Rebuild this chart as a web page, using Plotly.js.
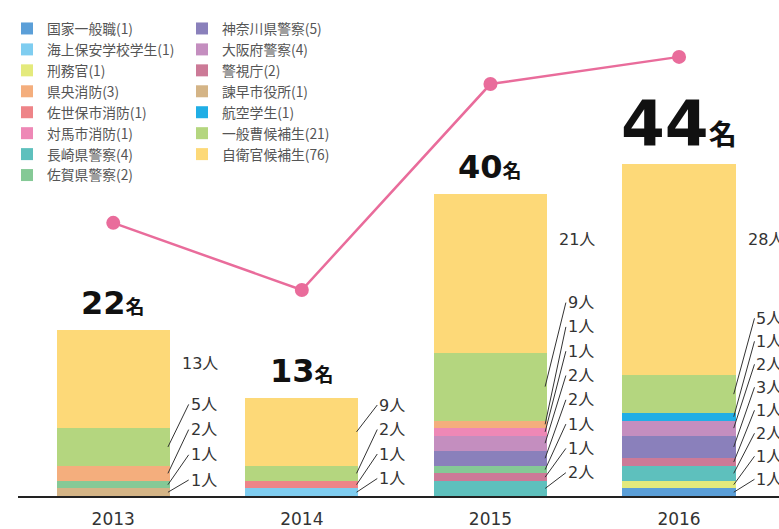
<!DOCTYPE html>
<html>
<head>
<meta charset="utf-8">
<script src="https://cdn.plot.ly/plotly-3.0.1.min.js"></script>
<style>html,body{margin:0;padding:0;background:#fff;}#chart{width:779px;height:529px;}</style>
</head>
<body>
<div id="chart"></div>
<script>
// ---- data ----
const years = ['2013', '2014', '2015', '2016'];
// stacking order (bottom to top)
const kokkaIppanshoku = [0, 0, 0, 1];     // 国家一般職
const kaijoHoan = [0, 1, 0, 0];           // 海上保安学校学生
const keimukan = [0, 0, 0, 1];            // 刑務官
const isahayaShiyakusho = [1, 0, 0, 0];   // 諫早市役所
const nagasakiKeisatsu = [0, 0, 2, 2];    // 長崎県警察
const keishicho = [0, 0, 1, 1];           // 警視庁
const sagaKeisatsu = [1, 0, 1, 0];        // 佐賀県警察
const kanagawaKeisatsu = [0, 0, 2, 3];    // 神奈川県警察
const osakaKeisatsu = [0, 0, 2, 2];       // 大阪府警察
const kokuGakusei = [0, 0, 0, 1];         // 航空学生
const saseboShobo = [0, 1, 0, 0];         // 佐世保市消防
const tsushimaShobo = [0, 0, 1, 0];       // 対馬市消防
const kenoShobo = [2, 0, 1, 0];           // 県央消防
const ippanSokohosei = [5, 2, 9, 5];      // 一般曹候補生
const jieikanKohosei = [13, 9, 21, 28];   // 自衛官候補生
const lineValues = [36.2, 27.3, 54.6, 58.2]; // 折れ線（目盛なし）

const legendNames = {
  kokka: '国家一般職(1)', kaijo: '海上保安学校学生(1)', keimu: '刑務官(1)', keno: '県央消防(3)',
  sasebo: '佐世保市消防(1)', tsushima: '対馬市消防(1)', nagasaki: '長崎県警察(4)', saga: '佐賀県警察(2)',
  kanagawa: '神奈川県警察(5)', osaka: '大阪府警察(4)', keishi: '警視庁(2)', isahaya: '諫早市役所(1)',
  koku: '航空学生(1)', ippan: '一般曹候補生(21)', jieikan: '自衛官候補生(76)'
};

// ---- style ----
const series = [
  {key: 'kokka', v: kokkaIppanshoku, c: '#5B9FD8', lg: 'legend', r: 1},
  {key: 'kaijo', v: kaijoHoan, c: '#7FCDF0', lg: 'legend', r: 2},
  {key: 'keimu', v: keimukan, c: '#E4EA7C', lg: 'legend', r: 3},
  {key: 'isahaya', v: isahayaShiyakusho, c: '#D4B486', lg: 'legend2', r: 4},
  {key: 'nagasaki', v: nagasakiKeisatsu, c: '#5EC0BD', lg: 'legend', r: 7},
  {key: 'keishi', v: keishicho, c: '#CC7A97', lg: 'legend2', r: 3},
  {key: 'saga', v: sagaKeisatsu, c: '#85C996', lg: 'legend', r: 8},
  {key: 'kanagawa', v: kanagawaKeisatsu, c: '#8A80BB', lg: 'legend2', r: 1},
  {key: 'osaka', v: osakaKeisatsu, c: '#C48EBF', lg: 'legend2', r: 2},
  {key: 'koku', v: kokuGakusei, c: '#20AEE5', lg: 'legend2', r: 5},
  {key: 'sasebo', v: saseboShobo, c: '#EE8488', lg: 'legend', r: 5},
  {key: 'tsushima', v: tsushimaShobo, c: '#EE88B6', lg: 'legend', r: 6},
  {key: 'keno', v: kenoShobo, c: '#F4AE7D', lg: 'legend', r: 4},
  {key: 'ippan', v: ippanSokohosei, c: '#B4D67F', lg: 'legend2', r: 6},
  {key: 'jieikan', v: jieikanKohosei, c: '#FDD978', lg: 'legend2', r: 7}
];

const W = 779, H = 529, ML = 18, MR = 0, MT = 10, MB = 33;
const plotH = H - MT - MB;
const yMax = plotH / 7.545;
const pxToY = py => (H - MB - py) * yMax / plotH;

const CJK = '"DejaVu Sans", "Noto Sans CJK JP", sans-serif';

const traces = series.map(s => ({
  type: 'bar', x: years, y: s.v, name: legendNames[s.key],
  marker: {color: s.c, line: {width: 0}}, width: 0.6,
  legend: s.lg, legendrank: s.r, legendgroup: s.key,
  hoverinfo: 'skip'
}));
traces.push({
  type: 'scatter', mode: 'lines+markers', x: years, y: lineValues, yaxis: 'y2',
  line: {color: '#E96C9B', width: 2.5}, marker: {color: '#E96C9B', size: 14},
  showlegend: false, hoverinfo: 'skip'
});

// label layout per year (pixel positions of the labels, bottom-up)
const labelCfg = [
  {base: 480, step: 25.2, plainTop: true, plainY: 363.5},
  {base: 478.5, step: 24.5, plainTop: false},
  {base: 472.7, step: 24.3, plainTop: true, plainY: 239.3},
  {base: 479.3, step: 23.0, plainTop: true, plainY: 239.3}
];
const annotations = [];
years.forEach((yr, i) => {
  const segs = [];
  let cum = 0;
  series.forEach(s => {
    const v = s.v[i];
    if (v > 0) { segs.push({v: v, mid: cum + v / 2}); cum += v; }
  });
  const cfg = labelCfg[i];
  const lead = cfg.plainTop ? segs.slice(0, -1) : segs;
  lead.forEach((sg, j) => {
    annotations.push({
      x: i + 0.29, y: sg.mid, xref: 'x', yref: 'y',
      ax: i + 0.4, ay: pxToY(cfg.base - j * cfg.step), axref: 'x', ayref: 'y',
      text: sg.v + '人', showarrow: true, arrowhead: 0, arrowwidth: 1, arrowcolor: '#333',
      xanchor: 'left', yanchor: 'middle', font: {family: CJK, size: 16, color: '#333'}
    });
  });
  if (cfg.plainTop) {
    const top = segs[segs.length - 1];
    annotations.push({
      x: i + 0.355, y: pxToY(cfg.plainY), xref: 'x', yref: 'y', showarrow: false,
      text: top.v + '人', xanchor: 'left', yanchor: 'middle',
      font: {family: CJK, size: 16, color: '#333'}
    });
  }
  const big = i === 3;
  annotations.push({
    x: i, y: cum, xref: 'x', yref: 'y', showarrow: false,
    text: '<b>' + cum + '<span style="font-size:' + (big ? 28 : 19) + 'px">名</span></b>',
    xanchor: 'center', yanchor: 'bottom', yshift: big ? 2 : 6,
    font: {family: CJK, size: big ? 63 : 32, color: '#111'}
  });
});

const legendFont = {family: '"Noto Sans CJK JP", sans-serif', size: 13.8, color: '#555'};
const layout = {
  width: W, height: H,
  margin: {l: ML, r: MR, t: MT, b: MB, pad: 0},
  paper_bgcolor: '#fff', plot_bgcolor: '#fff',
  barmode: 'stack', showlegend: true,
  xaxis: {type: 'category', range: [-0.505, 3.53], showline: true, linecolor: '#222', linewidth: 1.5,
          ticks: '', showgrid: false, zeroline: false, fixedrange: true, ticklabelstandoff: 7,
          tickfont: {family: CJK, size: 17, color: '#333'}},
  yaxis: {range: [0, yMax], visible: false, fixedrange: true},
  yaxis2: {range: [0, yMax], overlaying: 'y', visible: false, fixedrange: true},
  legend: {x: (7 - ML) / (W - ML - MR), xanchor: 'left', y: 1 + (MT - 13) / plotH, yanchor: 'top',
           traceorder: 'normal', bgcolor: 'rgba(0,0,0,0)', font: legendFont, tracegroupgap: 0},
  legend2: {x: (182 - ML) / (W - ML - MR), xanchor: 'left', y: 1 + (MT - 13) / plotH, yanchor: 'top',
            traceorder: 'normal', bgcolor: 'rgba(0,0,0,0)', font: legendFont, tracegroupgap: 0},
  annotations: annotations
};

Plotly.newPlot('chart', traces, layout, {displayModeBar: false, staticPlot: true});
</script>
</body>
</html>
